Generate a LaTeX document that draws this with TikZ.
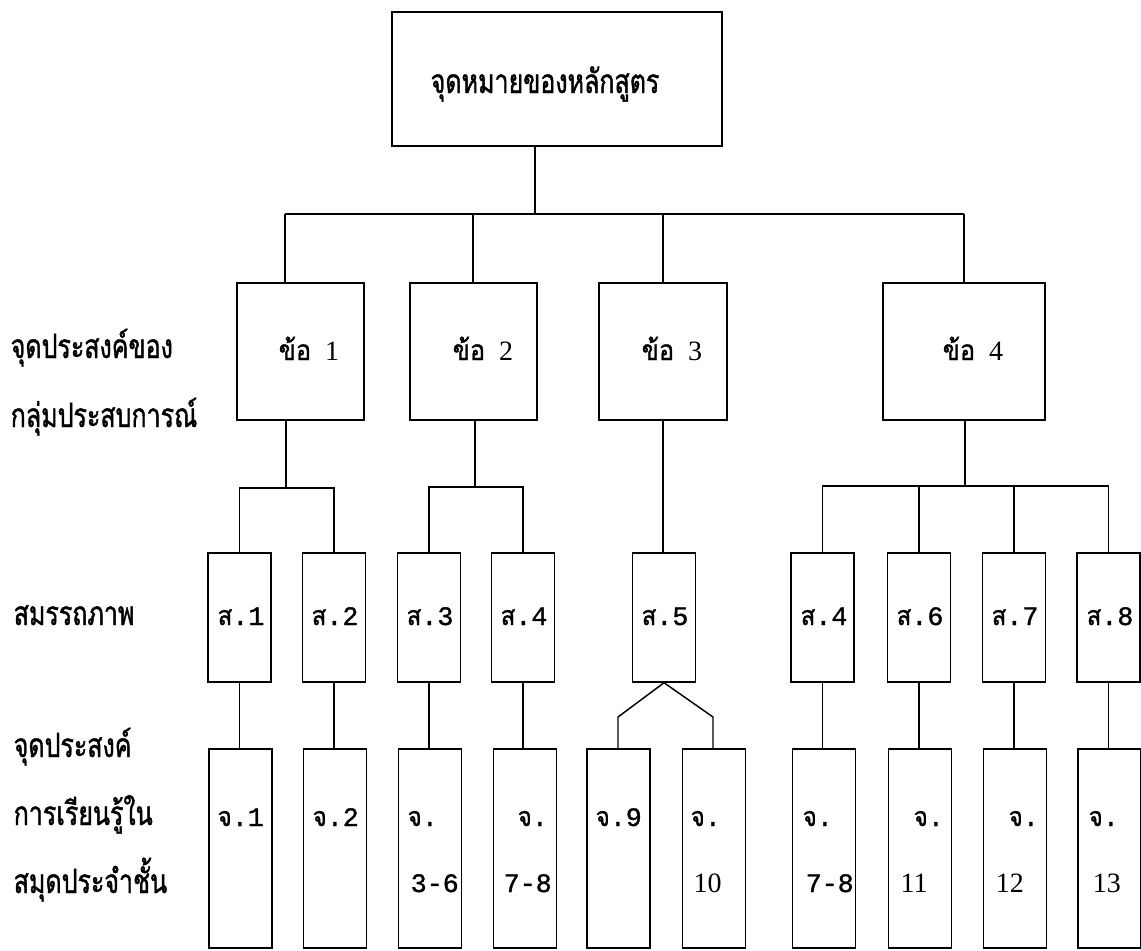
\documentclass[tikz,border=0pt]{standalone}
\usepackage{fontspec}
\setmainfont{Liberation Serif}
\newfontfamily\thaifont[Script=Thai, FakeStretch=0.75, FakeBold=1.2]{Loma}
\newfontfamily\thaiboxfont[Script=Thai, FakeStretch=0.9, FakeBold=1.2]{Loma}
\newfontfamily\typefont[FakeBold=1.2]{Liberation Mono}
\usepackage{tikz}

\newcommand{\sor}[1]{{\thaiboxfont ส}.#1}
\newcommand{\jor}[1]{{\thaiboxfont จ}.#1}

\begin{document}
\begin{tikzpicture}[x=0.75pt,y=0.75pt,yscale=-1,xscale=1,
  line width=1.1pt,
  goalbox/.style={draw, inner sep=0pt, minimum width=247.5pt, minimum height=100.5pt},
  itembox/.style={draw, inner sep=0pt, minimum height=102.75pt, minimum width=95.25pt},
  skillbox/.style={draw, inner sep=0pt, minimum height=96.75pt, minimum width=47.25pt},
  objbox/.style={draw, inner sep=0pt, minimum height=149.25pt, minimum width=47.25pt},
  rowlabel/.style={anchor=base west, inner sep=0pt, font=\fontsize{25}{28}\thaifont},
  boxtext/.style={anchor=base west, inner sep=0pt, font=\fontsize{20}{24}\typefont},
  numtext/.style={anchor=base west, inner sep=0pt, font=\fontsize{21}{24}\rmfamily}]
\useasboundingbox (0,0) rectangle (1141,950);

%Shape: Rectangle (top)
\draw (557,79) node [goalbox] (top) {};
% Text Node
\draw (430,93) node [rowlabel, font=\fontsize{25}{28}\thaifont] (toptxt) {จุดหมายของหลักสูตร};

%Shape: Rectangle (items)
\draw (300.5,351.5) node [itembox] (k1) {};
\draw (473.5,351.5) node [itembox] (k2) {};
\draw (663,351.5) node [itembox, minimum width=96pt] (k3) {};
\draw (964,351.5) node [itembox, minimum width=121.5pt] (k4) {};
% Text Node
\draw (278,360) node [numtext] (k1txt) {{\thaiboxfont ข้อ}~~1};
\draw (452,360) node [numtext] (k2txt) {{\thaiboxfont ข้อ}~~2};
\draw (641,360) node [numtext] (k3txt) {{\thaiboxfont ข้อ}~~3};
\draw (942,360) node [numtext] (k4txt) {{\thaiboxfont ข้อ}~~4};

%Shape: Rectangle (skills)
\draw (239.5,617.5) node [skillbox] (s1) {};
\draw (334,617.5) node [skillbox] (s2) {};
\draw (429,617.5) node [skillbox] (s3) {};
\draw (523,617.5) node [skillbox] (s4) {};
\draw (664,617.5) node [skillbox] (s5) {};
\draw (822.5,617.5) node [skillbox] (s4b) {};
\draw (919,617.5) node [skillbox] (s6) {};
\draw (1014,617.5) node [skillbox] (s7) {};
\draw (1108.5,617.5) node [skillbox] (s8) {};
% Text Node
\draw (217,625) node [boxtext] (s1txt) {\sor{1}};
\draw (311,625) node [boxtext] (s2txt) {\sor{2}};
\draw (406,625) node [boxtext] (s3txt) {\sor{3}};
\draw (500,625) node [boxtext] (s4txt) {\sor{4}};
\draw (641,625) node [boxtext] (s5txt) {\sor{5}};
\draw (800,625) node [boxtext] (s4btxt) {\sor{4}};
\draw (896,625) node [boxtext] (s6txt) {\sor{6}};
\draw (991,625) node [boxtext] (s7txt) {\sor{7}};
\draw (1086,625) node [boxtext] (s8txt) {\sor{8}};

%Shape: Rectangle (objectives)
\draw (240.5,848.5) node [objbox] (j1) {};
\draw (335,848.5) node [objbox] (j2) {};
\draw (430,848.5) node [objbox] (j3) {};
\draw (525,848.5) node [objbox] (j4) {};
\draw (618.5,848.5) node [objbox] (j9) {};
\draw (714,848.5) node [objbox] (j10) {};
\draw (824,848.5) node [objbox] (j7b) {};
\draw (920,848.5) node [objbox] (j11) {};
\draw (1015,848.5) node [objbox] (j12) {};
\draw (1109.5,848.5) node [objbox] (j13) {};
% Text Node
\draw (217,826) node [boxtext] (j1txt) {\jor{1}};
\draw (312,826) node [boxtext] (j2txt) {\jor{2}};
\draw (407,826) node [boxtext] (j3txt) {\jor{}};
\draw (410,892) node [boxtext] (j3num) {3-6};
\draw (517,826) node [boxtext] (j4txt) {\jor{}};
\draw (503,892) node [boxtext] (j4num) {7-8};
\draw (595,826) node [boxtext] (j9txt) {\jor{9}};
\draw (690,826) node [boxtext] (j10txt) {\jor{}};
\draw (693,892) node [numtext] (j10num) {10};
\draw (802,826) node [boxtext] (j7btxt) {\jor{}};
\draw (805,892) node [boxtext] (j7bnum) {7-8};
\draw (913,826) node [boxtext] (j11txt) {\jor{}};
\draw (900,892) node [numtext] (j11num) {11};
\draw (1008,826) node [boxtext] (j12txt) {\jor{}};
\draw (995,892) node [numtext] (j12num) {12};
\draw (1088,826) node [boxtext] (j13txt) {\jor{}};
\draw (1092,892) node [numtext] (j13num) {13};

% Row labels
\draw (10,358) node [rowlabel] (lab1) {จุดประสงค์ของ};
\draw (10,427) node [rowlabel] (lab2) {กลุ่มประสบการณ์};
\draw (13,625) node [rowlabel] (lab3) {สมรรถภาพ};
\draw (13,757) node [rowlabel] (lab4) {จุดประสงค์};
\draw (13,825) node [rowlabel] (lab5) {การเรียนรู้ใน};
\draw (13,893) node [rowlabel] (lab6) {สมุดประจำชั้น};

%Straight Lines (top to items)
\coordinate (tb) at (535,214);
\coordinate (b1) at (285,214);
\coordinate (b2) at (473,214);
\coordinate (b3) at (663,214);
\coordinate (b4) at (964,214);
\draw (top.south -| tb) -- (tb);
\draw (b1) -- (b4);
\draw (b1) -- (b1 |- k1.north);
\draw (b2) -- (b2 |- k2.north);
\draw (b3) -- (b3 |- k3.north);
\draw (b4) -- (b4 |- k4.north);

%Straight Lines (items to skills)
\coordinate (c1) at (286,488);
\coordinate (c2) at (475,487);
\coordinate (c4) at (965,486);
\draw (k1.south -| c1) -- (c1);
\draw (s1.north) -- (s1.north |- c1) -- (s2.north |- c1) -- (s2.north);
\draw (k2.south -| c2) -- (c2);
\draw (s3.north) -- (s3.north |- c2) -- (s4.north |- c2) -- (s4.north);
\draw (k3.south) -- (k3.south |- s5.north);
\draw (k4.south -| c4) -- (c4);
\draw (s4b.north) -- (s4b.north |- c4) -- (s8.north |- c4) -- (s8.north);
\draw (s6.north |- c4) -- (s6.north);
\draw (s7.north |- c4) -- (s7.north);

%Straight Lines (skills to objectives)
\draw (s1.south) -- (s1.south |- j1.north);
\draw (s2.south) -- (s2.south |- j2.north);
\draw (s3.south) -- (s3.south |- j3.north);
\draw (s4.south) -- (s4.south |- j4.north);
\draw (s4b.south) -- (s4b.south |- j7b.north);
\draw (s6.south) -- (s6.south |- j11.north);
\draw (s7.south) -- (s7.south |- j12.north);
\draw (s8.south) -- (s8.south |- j13.north);
\coordinate (v1) at (618,717);
\coordinate (v2) at (713,717);
\draw (v1 |- j9.north) -- (v1) -- (s5.south) -- (v2) -- (v2 |- j10.north);
\end{tikzpicture}
\end{document}
